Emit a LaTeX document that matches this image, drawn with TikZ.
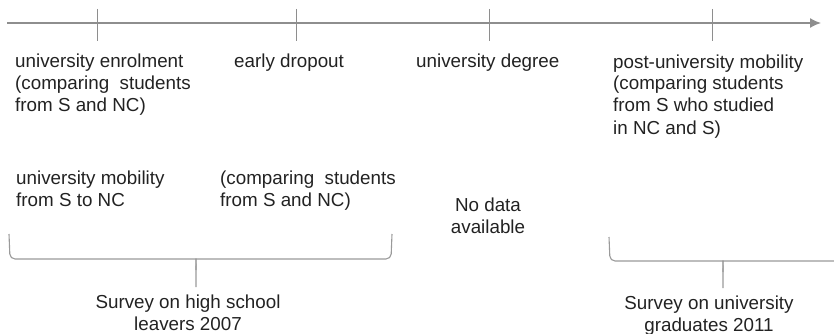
\documentclass[tikz,border=0pt]{standalone}
\usepackage{fontspec}
\setmainfont{Liberation Sans}
\usepackage{xcolor}
\usetikzlibrary{arrows.meta, positioning}
\definecolor{axisgray}{HTML}{8E8E8E}
\definecolor{bracegray}{HTML}{9A9A9A}
\definecolor{txt}{HTML}{222222}

\begin{document}
\begin{tikzpicture}[x=1pt,y=-1pt,
  every node/.style={font=\fontsize{18.8}{22}\selectfont, text=txt, inner sep=0pt, align=left},
  axis/.style={line width=1.4pt, draw=axisgray, -{Latex[length=11pt,width=10pt]}},
  tickline/.style={line width=1pt, draw=axisgray},
  brace/.style={line width=1.1pt, draw=bracegray, rounded corners=5pt}]
  \useasboundingbox (0,0) rectangle (834,334);
  \clip (0,0) rectangle (834,334);
  % time axis
  \coordinate (start) at (7,23);
  \coordinate (end) at (821,23);
  \draw[axis] (start) -- (end);
  \foreach \x/\n in {97/t1, 296/t2, 489/t3, 712/t4}{
    \coordinate (\n) at (\x,23);
    \draw[tickline] ([yshift=14pt]\n) -- ([yshift=-18pt]\n);
  }
  % stages (base = last line)
  \node[anchor=base west] (enrol) at (15,112) {university enrolment\\(comparing~ students\\from S and NC)};
  \node[anchor=base west] (dropout) at (234,68) {early dropout};
  \node[anchor=base west] (degree) at (416,68) {university degree};
  \node[anchor=base west] (postmob) at (613,134) {post-university mobility\\(comparing students\\from S who studied\\in NC and S)};
  % data
  \node[anchor=base west] (mobility) at (16,206) {university mobility\\from S to NC};
  \node[anchor=base west] (compare) at (220,206) {(comparing~ students\\from S and NC)};
  \node[anchor=base, align=center] (nodata) at (488,233) {No data\\available};
  % surveys
  \draw[brace] (9,234) -- (10,259) -- (191,259) to[out=0,in=90] (196,270) -- (196,287);
  \draw[brace] (392,234) -- (391,259) -- (201,259) to[out=180,in=90] (196,270);
  \draw[brace] (609,237) -- (610,261) -- (718,261) to[out=0,in=90] (723,272) -- (723,288);
  \draw[brace] (840,261) -- (728,261) to[out=180,in=90] (723,272);
  \node[anchor=base, align=center] (survey1) at (188,330) {Survey on high school\\leavers 2007};
  \node[anchor=base, align=center] (survey2) at (709,331) {Survey on university\\graduates 2011};
\end{tikzpicture}
\end{document}
